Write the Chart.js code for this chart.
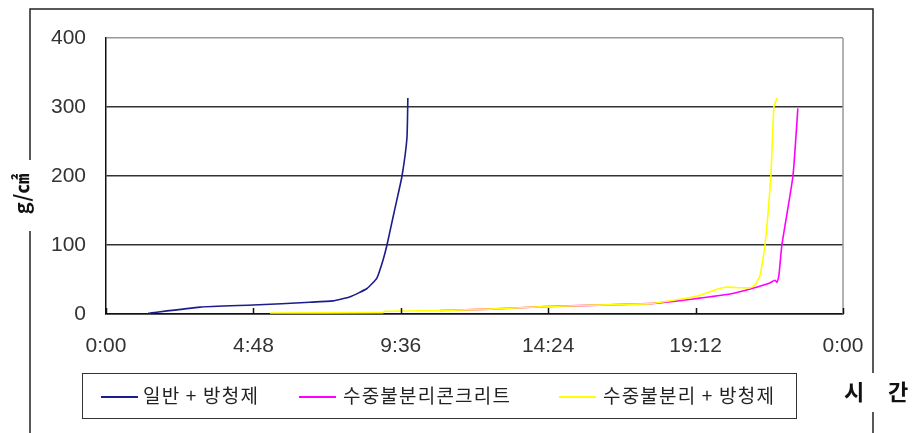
<!DOCTYPE html>
<html>
<head>
<meta charset="utf-8">
<script src="https://cdn.jsdelivr.net/npm/chart.js@4/dist/chart.umd.min.js"></script>
<style>
    body { margin: 0; background: #fff; }
    #wrap { position: relative; width: 916px; height: 433px; }
    #legend { position: absolute; left: 82px; top: 373px; width: 713px; height: 44px; border: 1.5px solid #333; }
    .swatch { position: absolute; top: 22px; height: 1.5px; width: 37px; }
    .label { position: absolute; top: 9px; font-family: "Noto Sans CJK KR"; font-size: 19px; letter-spacing: 1.2px; color: #222; line-height: 24px; white-space: nowrap; }
</style>
</head>
<body>
<div id="wrap">
    <canvas id="chart" width="916" height="433"></canvas>
    <div id="legend"></div>
</div>
<script>
// hours since start
const seriesNames = ['일반 + 방청제', '수중불분리콘크리트', '수중불분리 + 방청제'];
const seriesColors = ['#1c1c8c', '#ff00ff', '#ffff00'];

const blueHours = [1.37, 3.06, 4.79, 6.64, 7.39, 7.95, 8.5, 8.82, 9.02, 9.15, 9.35, 9.47, 9.64, 9.8, 9.83];
const blueValues = [1, 10, 13, 17, 19, 25, 37, 52, 78, 100, 141, 165, 200, 255, 313];

const magentaHours = [10.88, 12.5, 14.46, 17.71, 18.79, 19.34, 20.32, 21.04, 21.62, 21.78, 21.85, 21.91, 22.01, 22.37, 22.53];
const magentaValues = [5, 7, 11, 15, 20, 23, 29, 37, 45, 49, 46, 55, 100, 200, 298];

const yellowHours = [5.34, 9.02, 9.08, 10.88, 12.5, 14.46, 17.71, 18.79, 19.34, 19.9, 20.22, 20.64, 20.97, 21.13, 21.3, 21.46, 21.65, 21.75, 21.85];
const yellowValues = [1.5, 2, 4, 5, 7, 11, 15, 22, 27, 36, 39, 38, 38, 42, 56, 100, 200, 300, 313];

const xTicks = [0, 4.8, 9.6, 14.4, 19.2, 24];
const yTicks = [0, 100, 200, 300, 400];

function toPoints(hours, values) {
    return hours.map((h, i) => ({ x: h, y: values[i] }));
}

function hourLabel(v) {
    const mins = Math.round(v * 60) % 1440;
    const h = Math.floor(mins / 60);
    const m = mins % 60;
    return h + ':' + (m < 10 ? '0' + m : m);
}

const legendEl = document.getElementById('legend');
const legendPos = [[18, 60], [216, 260], [476, 520]];
seriesNames.forEach((name, i) => {
    const sw = document.createElement('div');
    sw.className = 'swatch';
    sw.style.left = legendPos[i][0] + 'px';
    sw.style.background = seriesColors[i];
    legendEl.appendChild(sw);
    const lb = document.createElement('span');
    lb.className = 'label';
    lb.style.left = legendPos[i][1] + 'px';
    lb.textContent = name;
    legendEl.appendChild(lb);
});

const framePlugin = {
    id: 'frame',
    beforeDraw(chart) {
        const c = chart.ctx;
        c.save();
        c.fillStyle = '#fff';
        c.fillRect(0, 0, chart.width, chart.height);
        c.restore();
    },
    afterDraw(chart) {
        const c = chart.ctx;
        const a = chart.chartArea;
        const xs = chart.scales.x;
        c.save();
        // right border of the plot
        c.strokeStyle = '#999';
        c.lineWidth = 1.5;
        c.beginPath();
        c.moveTo(a.right, a.top);
        c.lineTo(a.right, a.bottom);
        c.stroke();
        // inward tick marks on the time axis
        c.strokeStyle = '#111';
        c.beginPath();
        xTicks.forEach(v => {
            const px = Math.round(xs.getPixelForValue(v)) + 0.5;
            c.moveTo(px, a.bottom);
            c.lineTo(px, a.bottom - 6);
        });
        c.stroke();
        // outer frame, broken by the axis titles
        c.strokeStyle = '#222';
        c.lineWidth = 1.5;
        c.beginPath();
        c.moveTo(30, 160);
        c.lineTo(30, 9);
        c.lineTo(873, 9);
        c.lineTo(873, 373);
        c.moveTo(873, 412);
        c.lineTo(873, 433);
        c.moveTo(30, 231);
        c.lineTo(30, 433);
        c.stroke();
        // axis titles
        c.fillStyle = '#111';
        c.font = 'bold 20px "Noto Sans CJK KR"';
        c.textAlign = 'center';
        c.textBaseline = 'middle';
        c.save();
        c.translate(21, 194);
        c.rotate(-Math.PI / 2);
        c.fillText('g/㎠', 0, 0);
        c.restore();
        c.font = 'bold 22px "Noto Sans CJK KR"';
        c.fillText('시', 854, 392);
        c.fillText('간', 898, 392);
        c.restore();
    }
};

Chart.defaults.font.family = 'Liberation Sans';
Chart.defaults.font.size = 21;
Chart.defaults.color = '#333';

new Chart(document.getElementById('chart'), {
    type: 'line',
    data: {
        datasets: [
            { label: seriesNames[0], data: toPoints(blueHours, blueValues), borderColor: seriesColors[0] },
            { label: seriesNames[2], data: toPoints(yellowHours, yellowValues), borderColor: seriesColors[2] },
            { label: seriesNames[1], data: toPoints(magentaHours, magentaValues), borderColor: seriesColors[1] }
        ]
    },
    options: {
        responsive: false,
        animation: false,
        devicePixelRatio: 1,
        layout: { padding: { left: 0, top: 38, right: 73, bottom: 0 } },
        elements: {
            point: { radius: 0 },
            line: { borderWidth: 1.6, tension: 0.15, fill: false }
        },
        plugins: { legend: { display: false }, tooltip: { enabled: false } },
        scales: {
            x: {
                type: 'linear',
                min: 0,
                max: 24,
                afterBuildTicks: s => { s.ticks = xTicks.map(v => ({ value: v })); },
                afterFit: s => { s.height = 119; },
                ticks: { callback: v => hourLabel(v), padding: 20, maxRotation: 0 },
                grid: { drawOnChartArea: false, drawTicks: false },
                border: { color: '#111', width: 1.5 }
            },
            y: {
                min: 0,
                max: 400,
                afterBuildTicks: s => { s.ticks = yTicks.map(v => ({ value: v })); },
                afterFit: s => { s.width = 106; },
                ticks: { padding: 20 },
                grid: {
                    drawTicks: false,
                    lineWidth: 1.5,
                    color: ctx => (ctx.tick && ctx.tick.value === 400 ? '#999' : '#333')
                },
                border: { color: '#111', width: 1.5 }
            }
        }
    },
    plugins: [framePlugin]
});
</script>
</body>
</html>
